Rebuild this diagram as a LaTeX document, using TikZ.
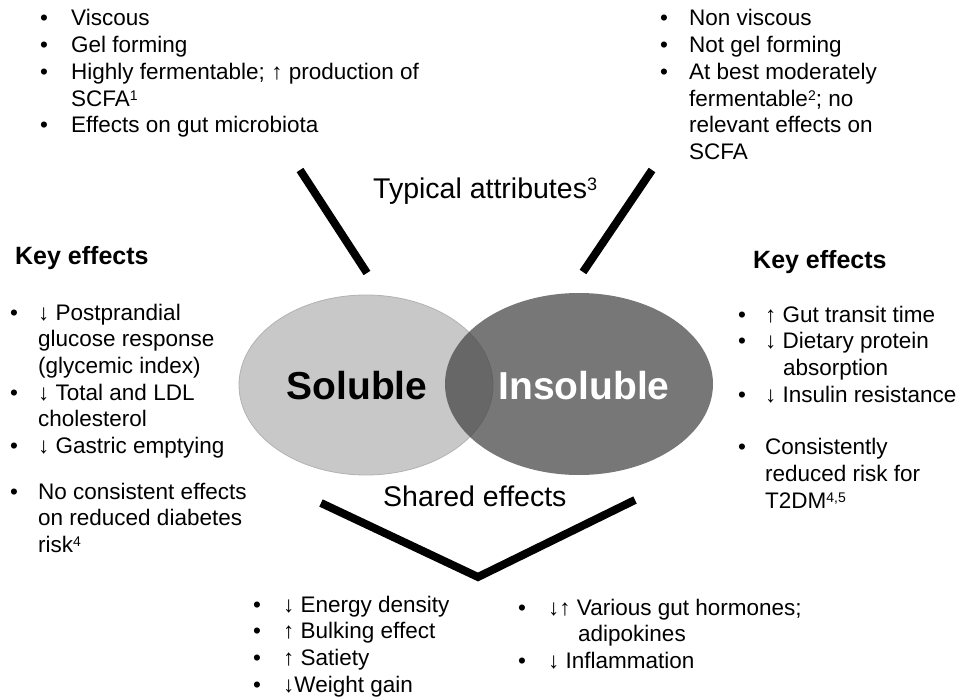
\documentclass[tikz,border=0pt]{standalone}
\usepackage{fontspec}
\setmainfont{Liberation Sans}
\definecolor{solfill}{RGB}{200,200,200}
\definecolor{soledge}{RGB}{178,178,178}
\definecolor{insfill}{RGB}{68,68,68}
\newcommand\supmark[2][14]{\raisebox{0.5ex}{\fontsize{#1}{#1}\selectfont #2}}
\tikzset{
  body/.style={inner sep=0pt, anchor=base west, font=\fontsize{22.5}{26.7}\selectfont},
  head/.style={inner sep=0pt, anchor=base west, font=\bfseries\fontsize{25}{28}\selectfont},
  label/.style={inner sep=0pt, anchor=base west, font=\fontsize{28.5}{32}\selectfont},
  venn/.style={inner sep=0pt, anchor=base, font=\bfseries\fontsize{39}{44}\selectfont},
  bar/.style={line width=8pt, line cap=butt, line join=miter}
}
\begin{document}
\begin{tikzpicture}[x=1pt,y=-1pt]
\useasboundingbox (0,0) rectangle (959,698);
% Venn ellipses
\fill[solfill, draw=soledge, line width=0.8pt] (366,385) ellipse [x radius=127, y radius=90];
\fill[insfill, fill opacity=0.73] (579,384) ellipse [x radius=134, y radius=91];
\node[venn] (sol) at (357,399) {Soluble};
\node[venn, text=white] (ins) at (584,399) {Insoluble};

% bars
\coordinate (a1) at (300,170); \coordinate (a2) at (367,273);
\coordinate (b1) at (652,170); \coordinate (b2) at (583,272);
\coordinate (v1) at (321,503); \coordinate (v2) at (478,577); \coordinate (v3) at (635,500);
\draw[bar] (a1) -- (a2);
\draw[bar] (b1) -- (b2);
\draw[bar] (v1) -- (v2) -- (v3);

\node[label] (typ) at (373,198) {Typical attributes\supmark[18]{3}};
\node[label] (shared) at (383,506) {Shared effects};

% top left
\node[body] (tl) at (40,26) {\begin{tabular}[t]{@{}p{31pt}@{}l@{}}
• & Viscous\\
• & Gel forming\\
• & Highly fermentable; ↑ production of\\
  & SCFA\supmark{1}\\
• & Effects on gut microbiota
\end{tabular}};

% top right
\node[body] (tr) at (660,26) {\begin{tabular}[t]{@{}p{29pt}@{}l@{}}
• & Non viscous\\
• & Not gel forming\\
• & At best moderately\\
  & fermentable\supmark{2}; no\\
  & relevant effects on\\
  & SCFA
\end{tabular}};

% left key effects
\node[head] (lk) at (15,264) {Key effects};
\node[body] (ll) at (10,320) {\begin{tabular}[t]{@{}p{28pt}@{}l@{}}
• & ↓ Postprandial\\
  & glucose response\\
  & (glycemic index)\\
• & ↓ Total and LDL\\
  & cholesterol\\
• & ↓ Gastric emptying\\[19pt]
• & No consistent effects\\
  & on reduced diabetes\\
  & risk\supmark{4}
\end{tabular}};

% right key effects
\node[head] (rk) at (753,268) {Key effects};
\node[body] (rl) at (738,322) {\begin{tabular}[t]{@{}p{27pt}@{}l@{}}
• & ↑ Gut transit time\\
• & ↓ Dietary protein\\
  & \hspace{18pt}absorption\\
• & ↓ Insulin resistance\\[26pt]
• & Consistently\\
  & reduced risk for\\
  & T2DM\supmark{4,5}
\end{tabular}};

% shared effects lists
\node[body] (bl) at (253,612) {\begin{tabular}[t]{@{}p{30pt}@{}l@{}}
• & ↓ Energy density\\
• & ↑ Bulking effect\\
• & ↑ Satiety\\
• & ↓Weight gain
\end{tabular}};
\node[body] (br) at (518,615) {\begin{tabular}[t]{@{}p{30pt}@{}l@{}}
• & ↓↑ Various gut hormones;\\
  & \hspace{30pt}adipokines\\
• & ↓ Inflammation
\end{tabular}};
\end{tikzpicture}
\end{document}
